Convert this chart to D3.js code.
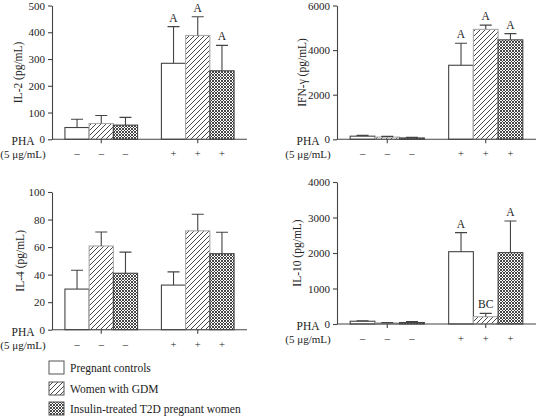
<!DOCTYPE html>
<html><head><meta charset="utf-8">
<script src="https://cdn.jsdelivr.net/npm/d3@7/dist/d3.min.js"></script>
<style>
html,body{margin:0;padding:0;background:#fff;}
text{font-family:"Liberation Serif","Times New Roman",serif;fill:#222;}
</style></head>
<body>
<svg id="chart" width="542" height="416"></svg>
<script>
// ---- data ----
const series = ["Pregnant controls", "Women with GDM", "Insulin-treated T2D pregnant women"];
const conditions = ["–", "+"];
// values ordered: [ctrl−, GDM−, T2D−, ctrl+, GDM+, T2D+]
const il2Mean = [44, 59, 53, 284, 388, 256];
const il2Err  = [75, 89, 82, 421, 458, 351];
const il2Letters = ["", "", "", "A", "A", "A"];
const il2Ticks = [0, 100, 200, 300, 400, 500];

const ifnMean = [140, 100, 60, 3320, 4930, 4460];
const ifnErr  = [175, 130, 85, 4310, 5120, 4740];
const ifnLetters = ["", "", "", "A", "A", "A"];
const ifnTicks = [0, 2000, 4000, 6000];

const il4Mean = [29.5, 60.8, 41, 32.4, 71.8, 55.2];
const il4Err  = [43.2, 71, 56.3, 42, 83.8, 70.8];
const il4Letters = ["", "", "", "", "", ""];
const il4Ticks = [0, 20, 40, 60, 80, 100];

const il10Mean = [78, 30, 42, 2037, 206, 2010];
const il10Err  = [92, 40, 72, 2575, 300, 2900];
const il10Letters = ["", "", "", "A", "BC", "A"];
const il10Ticks = [0, 1000, 2000, 3000, 4000];

const svg = d3.select("#chart");
const defs = svg.append("defs");
// hatch pattern
const hp = defs.append("pattern").attr("id", "hatch").attr("patternUnits", "userSpaceOnUse")
  .attr("width", 5).attr("height", 5);
hp.append("rect").attr("width", 5).attr("height", 5).attr("fill", "#fff");
hp.append("path").attr("d", "M-1,1 L1,-1 M0,5 L5,0 M4,6 L6,4").attr("stroke", "#333").attr("stroke-width", 0.9);
// cross-hatch pattern
const cp = defs.append("pattern").attr("id", "cross").attr("patternUnits", "userSpaceOnUse")
  .attr("width", 3).attr("height", 3);
cp.append("rect").attr("width", 3).attr("height", 3).attr("fill", "#fff");
cp.append("path").attr("d", "M-1,1 L1,-1 M0,3 L3,0 M2,4 L4,2 M-1,2 L1,4 M0,0 L3,3 M2,-1 L4,1")
  .attr("stroke", "#333").attr("stroke-width", 0.9);
const fills = ["#fff", "url(#hatch)", "url(#cross)"];
const strokes = ["#444", "#aaa", "#444"];

const panels = [
  {mean: il2Mean, err: il2Err, letters: il2Letters, ticks: il2Ticks, label: "IL-2 (pg/mL)",
   left: 52, right: 247, bottom: 139.3, top: 5.5, lx: 18},
  {mean: ifnMean, err: ifnErr, letters: ifnLetters, ticks: ifnTicks, label: "IFN-γ (pg/mL)",
   left: 337, right: 536, bottom: 139.3, top: 5.5, lx: 302},
  {mean: il4Mean, err: il4Err, letters: il4Letters, ticks: il4Ticks, label: "IL-4 (pg/mL)",
   left: 52, right: 247, bottom: 329.7, top: 192, lx: 20},
  {mean: il10Mean, err: il10Err, letters: il10Letters, ticks: il10Ticks, label: "IL-10 (pg/mL)",
   left: 337, right: 536, bottom: 324, top: 182, lx: 297}
];

panels.forEach(p => {
  const g = svg.append("g");
  const x0 = d3.scaleBand().domain(conditions).range([p.left, p.right])
    .paddingInner(0.247).paddingOuter(0.134);
  const x1 = d3.scaleBand().domain(d3.range(series.length)).range([0, x0.bandwidth()]);
  const y = d3.scaleLinear().domain([0, d3.max(p.ticks)]).range([p.bottom, p.top]);

  const rows = p.mean.map((m, i) => ({
    cond: conditions[Math.floor(i / 3)], s: i % 3, m, e: p.err[i], lab: p.letters[i]
  }));
  const cx = d => x0(d.cond) + x1(d.s) + x1.bandwidth() / 2;

  // bars
  g.selectAll("rect.bar").data(rows).join("rect").attr("class", "bar")
    .attr("x", d => x0(d.cond) + x1(d.s))
    .attr("y", d => y(d.m))
    .attr("width", x1.bandwidth())
    .attr("height", d => y(0) - y(d.m))
    .attr("fill", d => fills[d.s])
    .attr("stroke", d => strokes[d.s])
    .attr("stroke-width", 1.1);

  // error bars
  g.selectAll("path.err").data(rows).join("path").attr("class", "err")
    .attr("d", d => `M${cx(d)},${y(d.m)} V${y(d.e)} M${cx(d) - 6},${y(d.e)} H${cx(d) + 6}`)
    .attr("stroke", "#444").attr("stroke-width", 1.1).attr("fill", "none");

  // letters
  g.selectAll("text.lab").data(rows.filter(d => d.lab)).join("text").attr("class", "lab")
    .attr("x", cx).attr("y", d => y(d.e) - 5)
    .attr("text-anchor", "middle").attr("font-size", 11.5).text(d => d.lab);

  // y axis
  const ya = g.append("g").attr("transform", `translate(${p.left},0)`)
    .call(d3.axisLeft(y).tickValues(p.ticks).tickFormat(d3.format("d"))
      .tickSize(4).tickSizeOuter(0).tickPadding(3));
  ya.attr("font-family", null).attr("font-size", null);
  ya.selectAll("path,line").attr("stroke", "#444").attr("stroke-width", 1.1);
  ya.selectAll("text").attr("font-size", 11).attr("fill", "#222");

  // x axis line and ticks
  g.append("line").attr("x1", p.left).attr("x2", p.right).attr("y1", y(0)).attr("y2", y(0))
    .attr("stroke", "#444").attr("stroke-width", 1.1);
  g.selectAll("line.xt").data(conditions).join("line").attr("class", "xt")
    .attr("x1", c => x0(c) + x1(1) + x1.bandwidth() / 2)
    .attr("x2", c => x0(c) + x1(1) + x1.bandwidth() / 2)
    .attr("y1", y(0)).attr("y2", y(0) + 4)
    .attr("stroke", "#444").attr("stroke-width", 1.1);

  // condition signs
  g.selectAll("text.sign").data(rows).join("text").attr("class", "sign")
    .attr("x", cx).attr("y", y(0) + 18)
    .attr("text-anchor", "middle").attr("font-size", 10.5).attr("fill", "#333").text(d => d.cond);

  // PHA labels
  g.append("text").attr("x", p.left - 29).attr("y", y(0) + 6)
    .attr("text-anchor", "middle").attr("font-size", 11.5).text("PHA");
  g.append("text").attr("x", p.left - 29).attr("y", y(0) + 19)
    .attr("text-anchor", "middle").attr("font-size", 11).text("(5 μg/mL)");

  // y title
  g.append("text").attr("transform", `translate(${p.lx},${(p.top + p.bottom) / 2}) rotate(-90)`)
    .attr("text-anchor", "middle").attr("dy", "0.35em").attr("font-size", 11.5).text(p.label);
});

// legend
const legY = [361, 382, 402];
const leg = svg.append("g");
series.forEach((s, i) => {
  leg.append("rect").attr("x", 49).attr("y", legY[i]).attr("width", 15).attr("height", 13)
    .attr("fill", fills[i]).attr("stroke", "#555").attr("stroke-width", 1);
  leg.append("text").attr("x", 70).attr("y", legY[i] + 11).attr("font-size", 11.5).text(s);
});
</script>
</body></html>
